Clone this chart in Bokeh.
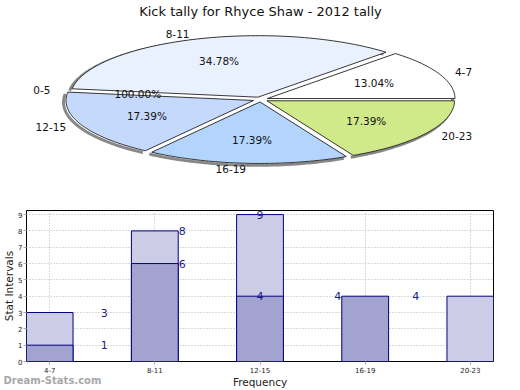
import math
from bokeh.plotting import figure
from bokeh.models import Range1d, FixedTicker, LinearAxis, ColumnDataSource
from bokeh.layouts import column
from bokeh.embed import file_html
from bokeh.resources import INLINE
from bokeh.core.properties import value

# ---------------- data ----------------
title_text = "Kick tally for Rhyce Shaw - 2012 tally"
pie_labels = ["4-7", "8-11", "0-5", "12-15", "16-19", "20-23"]
pie_values = [3, 8, 0, 4, 4, 4]
pie_pct_text = ["13.04%", "34.78%", "100.00%", "17.39%", "17.39%", "17.39%"]
pie_colors = ["#ffffff", "#eaf1fe", "#dde8fd", "#c5d9fd", "#b3d5fd", "#d0ea8a"]

bar_categories = ["4-7", "8-11", "12-15", "16-19", "20-23"]
series_light = [3, 8, 9, 0, 4]
series_dark = [1, 6, 4, 4, 0]
y_ticks = [0, 1, 2, 3, 4, 5, 6, 7, 8, 9]
watermark = "Dream-Stats.com"

FONT = "DejaVu Sans"

W = 520
BL, BR = 25, 27          # shared side borders -> plot frame spans x 25..493
PIE_H = 200
BAR_H = 190

# ---------------- pie (3D-looking, exploded) ----------------
CX, CY, RX, RY = 259.5, 99.0, 188.0, 61.5
EXPLODE = 0.04
LBL_R, PCT_R = 1.13, 0.62

pie = figure(width=W, height=PIE_H,
             x_range=Range1d(BL, W - BR), y_range=Range1d(PIE_H, 0),
             x_axis_type=None, y_axis_type=None, output_backend="svg",
             toolbar_location=None, min_border_left=BL, min_border_right=BR,
             min_border_top=0, min_border_bottom=0)
pie.grid.visible = False
pie.outline_line_color = None

pie.text(x=[CX], y=[10.5], text=[title_text], text_align="center", text_baseline="middle",
         text_font=value(FONT), text_font_size="13px", text_color="#111111")

total = float(sum(pie_values))
start = 0.0
slice_xs, slice_ys, slice_cols = [], [], []
shadow_xs, shadow_ys = [], []
lbl_x, lbl_y, lbl_t, lbl_align = [], [], [], []
pct_x, pct_y, pct_t = [], [], []
for lab, v, pct, col in zip(pie_labels, pie_values, pie_pct_text, pie_colors):
    sweep = 360.0 * v / total
    a0, a1 = start, start + sweep
    mid = math.radians((a0 + a1) / 2.0)
    ox = EXPLODE * RX * math.cos(mid)
    oy = -EXPLODE * RY * math.sin(mid)
    if v > 0:
        n = max(3, int(sweep / 1.5))
        angs = [math.radians(a0 + (a1 - a0) * k / n) for k in range(n + 1)]
        ax = [CX + ox + RX * math.cos(a) for a in angs]
        ay = [CY + oy - RY * math.sin(a) for a in angs]
        slice_xs.append([CX + ox] + ax)
        slice_ys.append([CY + oy] + ay)
        slice_cols.append(col)
        shadow_xs.append([x - 2.5 for x in ax])
        shadow_ys.append([y + 1.8 for y in ay])
    c, s = math.cos(mid), math.sin(mid)
    lbl_x.append(CX + LBL_R * RX * c)
    lbl_y.append(CY - LBL_R * RY * s)
    lbl_t.append(lab)
    lbl_align.append("left" if c >= 0 else "right")
    pct_x.append(CX + ox + PCT_R * RX * c)
    pct_y.append(CY + oy - PCT_R * RY * s)
    pct_t.append(pct)
    start = a1

pie.multi_line(xs=shadow_xs, ys=shadow_ys, line_color="#6a6a6a", line_width=3, line_alpha=0.8)
pie.patches(xs=slice_xs, ys=slice_ys, fill_color=slice_cols, line_color="#222222", line_width=0.9)

lsrc = ColumnDataSource(dict(x=lbl_x, y=lbl_y, t=lbl_t, a=lbl_align))
pie.text(x="x", y="y", text="t", text_align="a", source=lsrc, text_baseline="middle",
         text_font=value(FONT), text_font_size="10.5px", text_color="#111111")
pie.text(x=pct_x, y=pct_y, text=pct_t, text_align="center", text_baseline="middle",
         text_font=value(FONT), text_font_size="10.5px", text_color="#111111")

# ---------------- bar chart ----------------
xs = list(range(len(bar_categories)))
X0, X1 = -0.22, 4.22
bar = figure(width=W, height=BAR_H, x_range=Range1d(X0, X1), y_range=Range1d(0, 9.25),
             output_backend="svg", toolbar_location=None,
             min_border_left=BL, min_border_right=BR, min_border_top=10,
             min_border_bottom=0)
bar.outline_line_color = "#000000"
bar.outline_line_width = 1

lx = [x for x, v in zip(xs, series_light) if v > 0]
lv = [v for v in series_light if v > 0]
dx = [x for x, v in zip(xs, series_dark) if v > 0]
dv = [v for v in series_dark if v > 0]
bar.vbar(x=lx, top=lv, width=0.445, fill_color="#ccccE6", line_color="#000080", line_width=1)
bar.vbar(x=dx, top=dv, width=0.445, fill_color="#a3a3cf", line_color="#000080", line_width=1)

# value labels (shifted as in the original rendering)
tx, ty, tt = [], [], []
for series in (series_light, series_dark):
    for i, v in zip(xs, series):
        if v > 0:
            tx.append(i + 0.26 * (2 - i))
            ty.append(v)
            tt.append(str(v))
bar.text(x=tx, y=ty, text=tt, text_align="center", text_baseline="middle",
         text_font=value(FONT), text_font_size="11px", text_color="#1a1a8a")

xaxis = bar.xaxis[0]
yaxis = bar.yaxis[0]
xaxis.ticker = FixedTicker(ticks=xs)
xaxis.major_label_overrides = {i: c for i, c in zip(xs, bar_categories)}
yaxis.ticker = FixedTicker(ticks=y_ticks)
bar.xgrid.ticker = FixedTicker(ticks=xs)
bar.ygrid.ticker = FixedTicker(ticks=y_ticks)
for g in (bar.xgrid, bar.ygrid):
    g.grid_line_color = "#b5b5b5"
    g.grid_line_dash = "1 2"
    g.grid_line_width = 1

for ax in (xaxis, yaxis):
    ax.axis_line_color = None
    ax.major_tick_in = 0
    ax.major_tick_out = 3
    ax.major_tick_line_color = "#aaaaaa"
    ax.minor_tick_line_color = None
    ax.major_label_text_font = FONT
    ax.major_label_text_font_size = "7px"
    ax.major_label_text_color = "#222222"
    ax.major_label_standoff = 1
    ax.axis_label_text_font = FONT
    ax.axis_label_text_font_size = "10.5px"
    ax.axis_label_text_font_style = "normal"
    ax.axis_label_text_color = "#222222"
    ax.axis_label_standoff = 0
xaxis.major_label_standoff = 2
xaxis.axis_label = "Frequency"
yaxis.axis_label = "Stat Intervals"

# watermark drawn as the single label of an extra, line-less axis that takes no room
frame_px = (W - BR) - BL
wm_pos = X0 + (51 - BL) * (X1 - X0) / frame_px
wm_axis = LinearAxis(ticker=FixedTicker(ticks=[wm_pos]),
                     major_label_overrides={wm_pos: watermark},
                     axis_line_color=None, major_tick_line_color=None,
                     minor_tick_line_color=None, major_tick_out=0, major_tick_in=0,
                     major_label_standoff=-16,
                     major_label_text_font=FONT, major_label_text_font_size="10px",
                     major_label_text_font_style="bold", major_label_text_color="#a8a8a8")
bar.add_layout(wm_axis, "below")

layout = column(pie, bar)
open("out.html", "w").write(file_html(layout, INLINE))
